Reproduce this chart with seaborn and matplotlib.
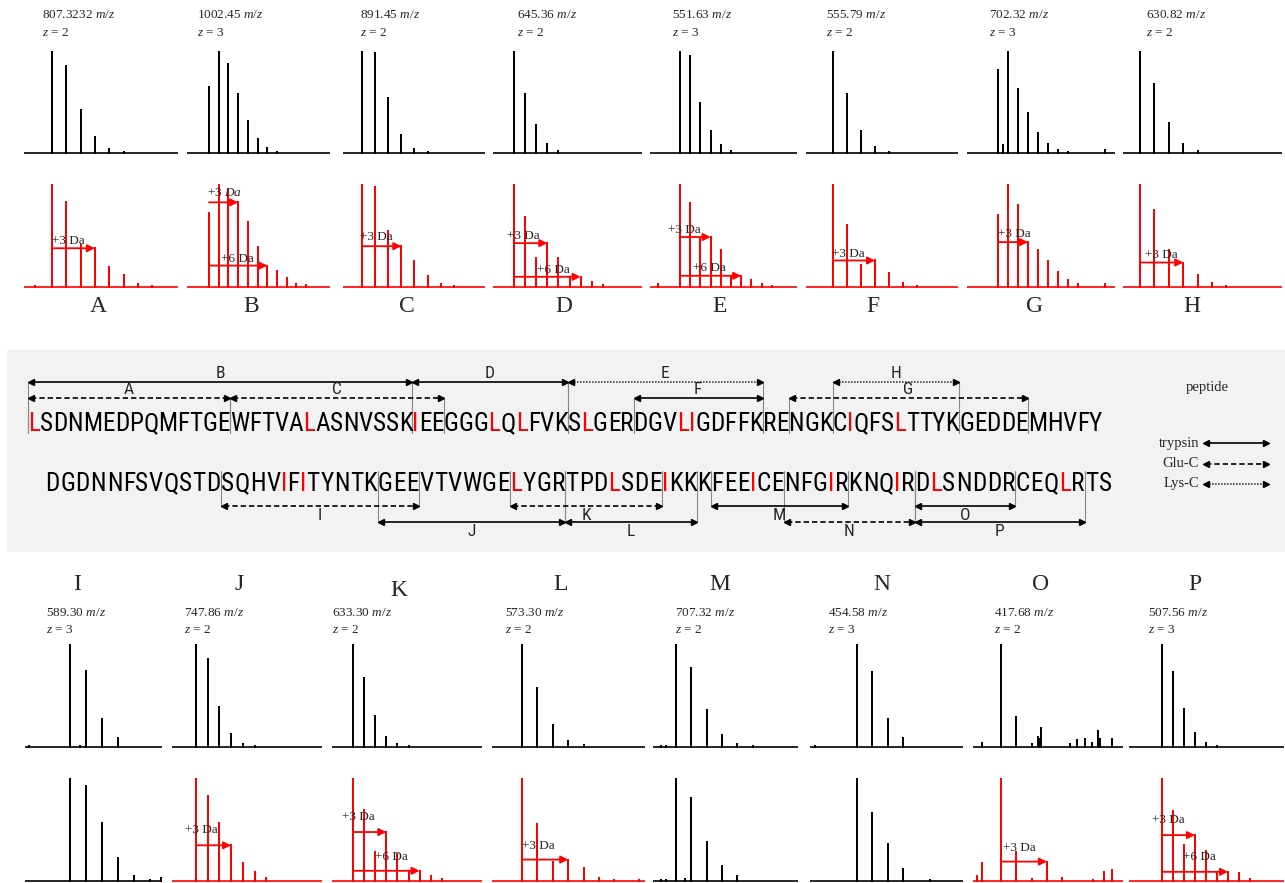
import matplotlib
matplotlib.use("Agg")
import matplotlib.pyplot as plt
import numpy as np
import pandas as pd
import seaborn as sns
from matplotlib import font_manager
from matplotlib.patches import Rectangle

W, H = 1285, 883

# ---- spectra ---------------------------------------------------------------
top_letters = ["A", "B", "C", "D", "E", "F", "G", "H"]
bottom_letters = ["I", "J", "K", "L", "M", "N", "O", "P"]
mz_text = ["807.3232", "1002.45", "891.45", "645.36", "551.63", "555.79", "702.32", "630.82",
           "589.30", "747.86", "633.30", "573.30", "707.32", "454.58", "417.68", "507.56"]
charges = [2, 3, 2, 2, 3, 2, 3, 2, 3, 2, 2, 2, 2, 3, 2, 3]

# relative intensity of isotope peaks k = 0, 1, 2 ... (unlabelled peptide)
native = {
    "A": [100, 86, 43, 16, 4, 1],
    "B": [65, 100, 88, 58, 32, 14, 5, 1],
    "C": [100, 99, 54, 18, 4, 1],
    "D": [100, 58, 28, 9, 2],
    "E": [100, 96, 50, 22, 8, 2],
    "F": [100, 58, 22, 6, 1],
    "G": [82, 100, 63, 40, 20, 9, 3, 1],
    "H": [100, 68, 30, 9, 2],
    "I": [100, 75, 27, 9],
    "J": [100, 86, 39, 13, 3, 1],
    "K": [100, 68, 30, 10, 3, 1],
    "L": [100, 58, 22, 6, 2],
    "M": [100, 77, 36, 12, 3, 1],
    "N": [100, 74, 27, 9],
    "O": [100, 29],
    "P": [100, 74, 37, 14, 4, 1],
}
# off-grid peaks: (isotope offset, intensity)
native_extra = {
    "G": [(0.5, 8), (10.7, 3)],
    "I": [(-2.6, 1), (0.6, 1)],
    "M": [(-1.0, 1), (-0.65, 1)],
    "N": [(-2.75, 1)],
    "O": [(-1.24, 4), (2.03, 3), (2.42, 10), (2.48, 8), (2.6, 19), (4.5, 3), (4.97, 7),
          (5.5, 8), (5.95, 4), (6.34, 16), (6.47, 8), (7.25, 8)],
}

# labelled (d3-Leu) peptide
heavy = {
    "A": [100, 83, 41, 38, 20, 12, 3, 1],
    "B": [73, 100, 95, 83, 64, 39, 21, 16, 9, 3, 2],
    "C": [100, 98, 55, 40, 25, 11, 3, 1],
    "D": [100, 69, 28, 43, 28, 10, 10, 5, 2],
    "E": [100, 82, 47, 49, 36, 11, 11, 7, 3, 1],
    "F": [100, 61, 22, 26, 14, 4, 1],
    "G": [71, 100, 80, 44, 36, 25, 15, 7, 3],
    "H": [100, 75, 36, 24, 12, 4, 1],
    "I": [100, 93, 57, 23, 5, 1],
    "J": [100, 83, 57, 35, 18, 9, 3],
    "K": [100, 70, 28, 48, 26, 9, 10, 5, 2],
    "L": [100, 56, 19, 21, 13, 3, 1],
    "M": [100, 81, 38, 15, 5],
    "N": [100, 67, 36, 12],
    "O": [100, 28, 2, 19, 3],
    "P": [100, 69, 35, 45, 29, 9, 9, 8, 2],
}
heavy_extra = {
    "A": [(-1.2, 1)],
    "E": [(-2.2, 3)],
    "G": [(10.7, 3)],
    "I": [(5.7, 3)],
    "L": [(7.6, 1)],
    "M": [(-1.0, 1), (-0.65, 1), (0.6, 2)],
    "N": [(4.8, 1)],
    "O": [(-1.57, 5), (-1.24, 18), (6.0, 1), (6.73, 9), (7.25, 11)],
}
unshifted = ["I", "M", "N"]  # no Leu/Ile -> drawn black

# mass shift arrows: panel, isotope step reached, label
shifts = [("A", 3, "+3 Da"), ("B", 3, "+3 $\\mathit{Da}$"), ("B", 6, "+6 Da"), ("C", 3, "+3 Da"),
          ("D", 3, "+3 Da"), ("D", 6, "+6 Da"), ("E", 3, "+3 Da"), ("E", 6, "+6 Da"),
          ("F", 3, "+3 Da"), ("G", 3, "+3 Da"), ("H", 3, "+3 Da"), ("J", 3, "+3 Da"),
          ("K", 3, "+3 Da"), ("K", 6, "+6 Da"), ("L", 3, "+3 Da"), ("O", 3, "+3 Da"),
          ("P", 3, "+3 Da"), ("P", 6, "+6 Da")]

# ---- sequence ---------------------------------------------------------------
seq_lines = ["LSDNMEDPQMFTGEWFTVALASNVSSKIEEGGGLQLFVKSLGERDGVLIGDFFKRENGKCIQFSLTTYKGEDDEMHVFY",
             "DGDNNFSVQSTDSQHVIFITYNTKGEEVTVWGELYGRTPDLSDEIKKKFEEICENFGIRKNQIRDLSNDDRCEQLRTS"]
red_residues = [[0, 19, 27, 33, 35, 40, 47, 48, 60, 64],
                [16, 18, 33, 40, 44, 51, 57, 62, 65, 74]]
# label, sequence line, first residue, last residue, enzyme, tier
peptides = [
    ("B", 0, 0, 26, "trypsin", 0), ("A", 0, 0, 13, "Glu-C", 1),
    ("C", 0, 14, 29, "Glu-C", 1), ("D", 0, 27, 38, "trypsin", 0),
    ("E", 0, 39, 53, "Lys-C", 0), ("F", 0, 44, 53, "trypsin", 1),
    ("G", 0, 56, 73, "Glu-C", 1), ("H", 0, 59, 68, "Lys-C", 0),
    ("I", 1, 12, 26, "Glu-C", 0), ("J", 1, 24, 36, "trypsin", 1),
    ("K", 1, 33, 43, "Glu-C", 0), ("L", 1, 37, 46, "trypsin", 1),
    ("M", 1, 48, 58, "trypsin", 0), ("N", 1, 54, 63, "Glu-C", 1),
    ("O", 1, 64, 70, "trypsin", 0), ("P", 1, 64, 75, "trypsin", 1),
]
enzymes = ["trypsin", "Glu-C", "Lys-C"]

# ---- layout (pixels) --------------------------------------------------------
# left edge, right edge, x of isotope k=0, isotope spacing
geom = {
    "A": (24, 178, 52, 14.3), "B": (187, 330, 209, 9.7), "C": (343, 485, 362, 13.1),
    "D": (493, 642, 514, 11.1), "E": (650, 797, 680, 10.2), "F": (806, 958, 833, 14.0),
    "G": (967, 1115, 998, 10.0), "H": (1123, 1282, 1140, 14.4),
    "I": (25, 162, 70, 15.9), "J": (172, 322, 196, 11.7), "K": (332, 482, 353, 11.1),
    "L": (492, 645, 522, 15.4), "M": (653, 798, 676, 15.3), "N": (810, 963, 857, 15.3),
    "O": (973, 1123, 1001, 15.3), "P": (1129, 1284, 1162, 11.0),
}
rows = {"top": [(153, 52), (287, 185)], "bottom": [(747, 645), (881, 779)]}
label_x = {"top": [42, 197, 360, 517, 672, 826, 989, 1146],
           "bottom": [46, 184, 332, 505, 675, 828, 994, 1148]}
label_y = {"top": (15, 33), "bottom": (613, 630)}
letter_x = {"top": [98, 251, 407, 564, 720, 873, 1035, 1192],
            "bottom": [77, 239, 399, 561, 720, 882, 1041, 1195]}
letter_y = {"top": 307, "bottom": 585}
shift_text_offset = {("A", 3): (0, 7), ("B", 3): (-2, 9), ("B", 6): (12, 7), ("C", 3): (-2, 9),
                     ("D", 3): (-7, 7), ("D", 6): (23, 7), ("E", 3): (-12, 7), ("E", 6): (13, 8),
                     ("F", 3): (-1, 6), ("G", 3): (0, 8), ("H", 3): (5, 8), ("J", 3): (-11, 15),
                     ("K", 3): (-11, 15), ("K", 6): (22, 14), ("L", 3): (0, 14), ("O", 3): (2, 14),
                     ("P", 3): (-10, 15), ("P", 6): (21, 15)}
RED = "#ff0000"
PT = 72 / 100  # px -> points

sns.set_theme(style="white")
plt.rcParams["font.family"] = ["Liberation Serif", "DejaVu Serif"]
plt.rcParams["mathtext.fontset"] = "custom"
plt.rcParams["mathtext.rm"] = "Liberation Serif"
plt.rcParams["mathtext.it"] = "Liberation Serif:italic"


def pick_sequence_font():
    """Narrow sans for the sequence if one is installed, else DejaVu Sans."""
    entries = font_manager.fontManager.ttflist
    regular = [f for f in entries if f.style == "normal"
               and str(f.weight).lower() in ("400", "normal", "regular", "book")]
    for name in ["Liberation Sans Narrow", "DejaVu Sans Condensed", "Roboto Condensed",
                 "Open Sans Condensed", "Noto Sans Condensed", "Arial Narrow"]:
        for f in regular:
            if f.name == name:
                return f.fname
    for stretch in ("condensed", "semi-condensed"):
        for f in regular:
            if str(f.stretch) == stretch and "Sans" in f.name and "Mono" not in f.name \
                    and "CJK" not in f.name:
                return f.fname
    return font_manager.findfont(font_manager.FontProperties(family="DejaVu Sans"))


seq_path = pick_sequence_font()

fig = plt.figure(figsize=(W / 100, H / 100), dpi=100)
ov = fig.add_axes([0, 0, 1, 1], zorder=0)
ov.set_xlim(0, W)
ov.set_ylim(H, 0)
ov.axis("off")


def stick_frame(peaks, xmin, xmax):
    pts = [(xmin, 0)]
    for x, h in sorted(peaks):
        pts += [(x, 0), (x, h), (x, 0)]
    pts.append((xmax, 0))
    return pd.DataFrame(pts, columns=["iso", "intensity"])


def draw_spectrum(letter, base, top, heights, extra, color):
    left, right, x0, step = geom[letter]
    ppu = (base - top) / 100
    pad = 4
    y_top = top - pad * ppu
    y_bot = base + pad * ppu
    ax = fig.add_axes([left / W, 1 - y_bot / H, (right - left) / W, (y_bot - y_top) / H])
    ax.patch.set_visible(False)
    xmin, xmax = (left - x0) / step, (right - x0) / step
    peaks = list(enumerate(heights)) + list(extra)
    df = stick_frame(peaks, xmin, xmax)
    sns.lineplot(data=df, x="iso", y="intensity", sort=False, estimator=None,
                 color=color, lw=1.2, ax=ax)
    ax.set_xlim(xmin, xmax)
    ax.set_ylim(-pad, 100 + pad)
    ax.axis("off")
    return ax


for group, letters in (("top", top_letters), ("bottom", bottom_letters)):
    (b1, t1), (b2, t2) = rows[group]
    for i, letter in enumerate(letters):
        idx = (top_letters + bottom_letters).index(letter)
        draw_spectrum(letter, b1, t1, native[letter], native_extra.get(letter, []), "black")
        col = "black" if letter in unshifted else RED
        ax2 = draw_spectrum(letter, b2, t2, heavy[letter], heavy_extra.get(letter, []), col)
        for pl, k, txt in shifts:
            if pl != letter:
                continue
            h = heavy[letter][k]
            ax2.annotate("", xy=(k, h), xytext=(0, h), annotation_clip=False,
                         arrowprops=dict(arrowstyle="-|>", color=RED, lw=1.3, shrinkA=0,
                                         shrinkB=0, mutation_scale=11))
            dx, dy = shift_text_offset[(pl, k)]
            ax2.annotate(txt, xy=(0, h), xytext=(dx * PT, dy * PT), textcoords="offset points",
                         fontsize=9.5, ha="left", va="center", annotation_clip=False)
        ya, yb = label_y[group]
        ov.text(label_x[group][i], ya, f"{mz_text[idx]} $m/z$", fontsize=9.5, va="center")
        ov.text(label_x[group][i], yb, f"$z$ = {charges[idx]}", fontsize=9.5, va="center")
        ly = letter_y[group] + (6 if letter == "K" else 0)
        ov.text(letter_x[group][i], ly, letter, fontsize=17, ha="center", va="center")

# ---- sequence panel ---------------------------------------------------------
ov.add_patch(Rectangle((7, 350), W - 7, 202, facecolor="#f2f2f2", edgecolor="none", zorder=0))

line_span = [(28, 1102), (45, 1112)]
line_base = [431, 491]
tier_y = [(382, 398), (506, 522)]
styles = {"trypsin": "-", "Glu-C": (0, (3.2, 1.8)), "Lys-C": (0, (1, 0.8))}


def advances(seq, size):
    ft = font_manager.get_font(seq_path)
    ft.set_size(size, fig.dpi)
    return np.array([ft.load_char(ord(c)).linearHoriAdvance / 65536 for c in seq])


size = min(19.5, min(20 * (x1 - x0) / advances(s, 20).sum()
                     for s, (x0, x1) in zip(seq_lines, line_span)))
seq_fp = font_manager.FontProperties(fname=seq_path, size=size)
label_fp = font_manager.FontProperties(fname=seq_path, size=12.5)
edges = []
for s, (x0, x1) in zip(seq_lines, line_span):
    cum = np.concatenate([[0], np.cumsum(advances(s, size))])
    edges.append(x0 + cum / cum[-1] * (x1 - x0))

for li, s in enumerate(seq_lines):
    e = edges[li]
    for j, c in enumerate(s):
        ov.text((e[j] + e[j + 1]) / 2, line_base[li], c, fontproperties=seq_fp,
                ha="center", va="baseline", color=RED if j in red_residues[li] else "black",
                zorder=3)


def double_arrow(x0, x1, y, enzyme):
    col = "#444444" if enzyme == "Lys-C" else "black"
    ov.plot([x0 + 3, x1 - 3], [y, y], color=col, lw=1.2, ls=styles[enzyme], zorder=3)
    ov.plot([x0 + 3], [y], marker="<", ms=4.5, color="black", zorder=3)
    ov.plot([x1 - 3], [y], marker=">", ms=4.5, color="black", zorder=3)


for lab, li, a, b, enz, tier in peptides:
    xa, xb = edges[li][a], edges[li][b + 1]
    y = tier_y[li][tier]
    double_arrow(xa, xb, y, enz)
    if li == 0:
        for xv in (xa, xb):
            ov.plot([xv, xv], [y, line_base[0] + 2], color="#888888", lw=0.8, zorder=2)
        ov.text((xa + xb) / 2, y - 9, lab, fontproperties=label_fp, ha="center",
                va="center", zorder=4)
    else:
        for xv in (xa, xb):
            ov.plot([xv, xv], [line_base[1] - 20, y], color="#888888", lw=0.8, zorder=2)
        ov.text((xa + xb) / 2, y + 9, lab, fontproperties=label_fp, ha="center",
                va="center", zorder=4)

# legend
ov.text(1207, 388, "peptide", fontsize=10.5, ha="center", va="center")
for i, enz in enumerate(enzymes):
    y = 443 + i * 20.5
    ov.text(1199, y, enz, fontsize=10.5, ha="right", va="center")
    double_arrow(1203, 1269, y, enz)

fig.savefig("out.png", dpi=100)
